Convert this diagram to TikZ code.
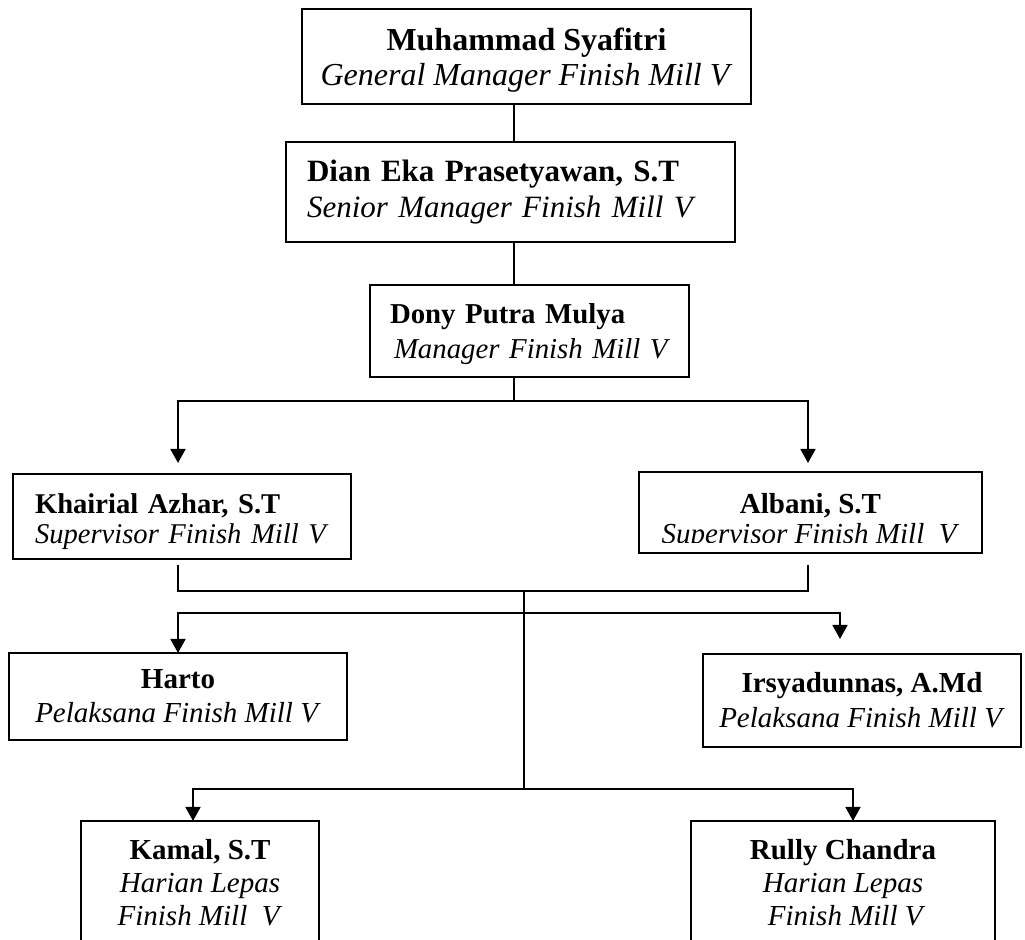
\documentclass[tikz,border=0pt]{standalone}
\usepackage{fontspec}
\setmainfont{Liberation Serif}
\usetikzlibrary{arrows.meta, positioning}

\tikzset{
  kotak/.style={draw, line width=1pt, rectangle, inner sep=0pt, outer sep=0pt, align=center},
  atas/.style={font=\fontsize{16}{17.5}\selectfont},
  bawah/.style={font=\fontsize{14.5}{17}\selectfont},
  garis/.style={line width=0.6pt},
  garisbawah/.style={line width=0.9pt},
  panah/.style={line width=0.9pt, -{Triangle[width=7.5pt,length=7pt]}},
}

\begin{document}
\begin{tikzpicture}[x=0.5pt, y=-0.5pt]

    \useasboundingbox (0,0) rectangle (1025,940);
    \clip (0,0) rectangle (1025,940);

    % =================================================================
    % 1. TITIK-TITIK PERCABANGAN GARIS
    % =================================================================
    \coordinate (t1) at (514,401);
    \coordinate (t2) at (524,591);
    \coordinate (t3) at (524,613);
    \coordinate (t4) at (524,789);

    % =================================================================
    % 2. KOTAK JABATAN
    % =================================================================
    \node[kotak, atas, minimum width=224.5pt, minimum height=47.5pt] (gm) at (526.5,56.5)
        {\rule{0pt}{15pt}\textbf{Muhammad Syafitri}\\ \textit{General Manager Finish Mill V}};

    \node[kotak, font=\fontsize{15.5}{18}\selectfont, align=left,
          text width=203.5pt, inner xsep=10.5pt, minimum height=50pt] (sm) at (510.5,192)
        {\mbox{\textbf{Dian Eka Prasetyawan, S.T}}\\ \mbox{\textit{Senior Manager Finish Mill V}}};

    \node[kotak, font=\fontsize{14.4}{17.5}\selectfont, align=left,
          text width=139.5pt, inner xsep=10pt, minimum height=46pt] (mgr) at (529.5,331)
        {\mbox{\rule{0pt}{13pt}\textbf{Dony Putra Mulya}}\\ \mbox{\hspace*{2pt}\textit{Manager Finish Mill V}}};

    \node[kotak, font=\fontsize{14.3}{15}\selectfont, align=left,
          text width=147pt, inner xsep=11pt, minimum height=42.5pt] (khairial) at (182,516.5)
        {\mbox{\rule{0pt}{14.7pt}\textbf{Khairial Azhar, S.T}}\\ \mbox{\textit{Supervisor Finish Mill V}}};

    % teks baris kedua terpotong oleh tepi bawah
    \begin{scope}
        \clip (600,460) rectangle (1000,543);
        \node[kotak, draw=none, bawah, font=\fontsize{14.5}{15}\selectfont,
              minimum width=171.5pt, minimum height=40.5pt] (albani) at (810.5,512.5)
            {\rule{0pt}{19pt}\textbf{Albani, S.T}\\ \textit{Supervisor Finish Mill\ \ V}};
    \end{scope}
    \draw[line width=1pt] (albani.north west) rectangle (albani.south east);

    \node[kotak, bawah, minimum width=169pt, minimum height=43.5pt] (harto) at (178,696.5)
        {\textbf{Harto}\\ \textit{Pelaksana Finish Mill V}};

    \node[kotak, bawah, font=\fontsize{14.5}{17.5}\selectfont,
          minimum width=159pt, minimum height=46.5pt] (irsya) at (862,700.5)
        {\textbf{Irsyadunnas, A.Md}\\ \textit{Pelaksana Finish Mill V}};

    \node[kotak, bawah, font=\fontsize{14.5}{16.5}\selectfont,
          minimum width=119pt, minimum height=62pt] (kamal) at (200,883)
        {\textbf{Kamal, S.T}\\ \textit{Harian Lepas}\\ \textit{Finish Mill\ \ V}};

    \node[kotak, bawah, font=\fontsize{14.5}{16.5}\selectfont,
          minimum width=152pt, minimum height=62pt] (rully) at (843,883)
        {\textbf{Rully Chandra}\\ \textit{Harian Lepas}\\ \ \textit{Finish Mill V}};

    % =================================================================
    % 3. GARIS PENGHUBUNG
    % =================================================================
    \draw[garis] (gm.south -| t1) -- (sm.north -| t1);
    \draw[garis] (sm.south -| t1) -- (mgr.north -| t1);
    \draw[garisbawah] (mgr.south -| t1) -- (t1);

    % ke supervisor
    \draw[panah, shorten >=5.5pt] (t1) -| ([xshift=-2pt]khairial.north);
    \draw[panah, shorten >=4.5pt] (t1) -| ([xshift=-1.25pt]albani.north);

    % dari supervisor ke bawah
    \draw[garisbawah, shorten <=3pt, shorten >=6pt]
        ([xshift=-2pt]khairial.south) |- (t2) -| ([xshift=-1.25pt]albani.south);
    \draw[garisbawah] (t2) -- (t4);

    % ke pelaksana
    \draw[panah] (t3) -| (harto.north);
    \draw[panah, shorten >=7.5pt] (t3) -| ([xshift=-11pt]irsya.north);

    % ke harian lepas
    \draw[panah] (t4) -| ([xshift=-3.5pt]kamal.north);
    \draw[panah] (t4) -| ([xshift=5pt]rully.north);

\end{tikzpicture}
\end{document}
